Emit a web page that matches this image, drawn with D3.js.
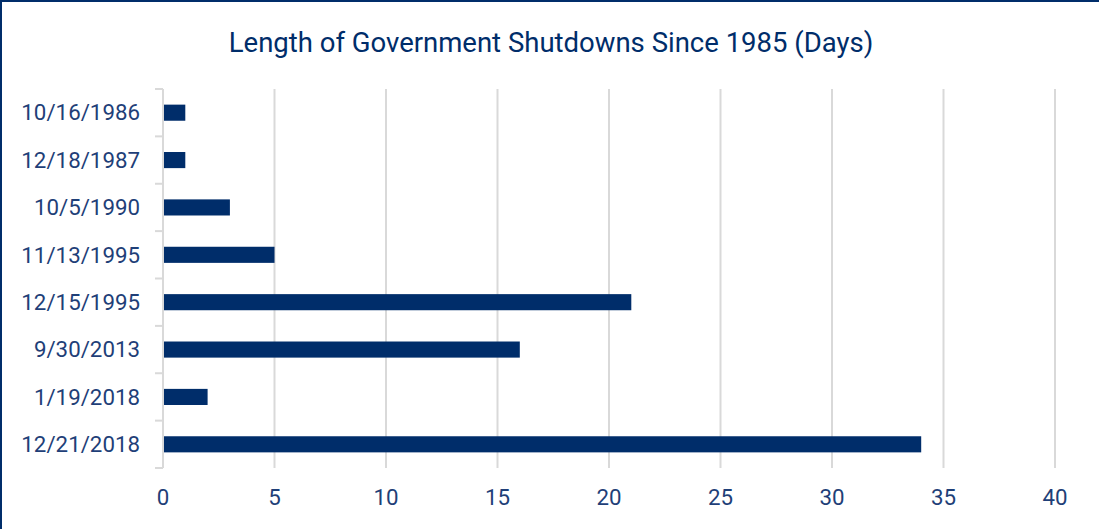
<!DOCTYPE html>
<html>
<head>
<meta charset="utf-8">
<script src="https://d3js.org/d3.v7.min.js"></script>
<style>
  html, body { margin: 0; padding: 0; background: #fff; }
  svg { display: block; }
</style>
</head>
<body>
<script>
// data
var dates = ["10/16/1986", "12/18/1987", "10/5/1990", "11/13/1995", "12/15/1995", "9/30/2013", "1/19/2018", "12/21/2018"];
var days = [1, 1, 3, 5, 21, 16, 2, 34];
var xTicks = [0, 5, 10, 15, 20, 25, 30, 35, 40];

var width = 1099, height = 529;
var navy = "#002d6a";
var textcolor = "#1f3f78";
var gridcolor = "#d9d9d9";

var margin = { top: 89, right: 44, bottom: 61, left: 163 };

var svg = d3.select("body").append("svg").attr("width", width).attr("height", height);

// frame lines on top and left
svg.append("line").attr("x1", 0).attr("x2", width).attr("y1", 1).attr("y2", 1)
  .attr("stroke", navy).attr("stroke-width", 2);
svg.append("line").attr("x1", 1).attr("x2", 1).attr("y1", 0).attr("y2", height)
  .attr("stroke", navy).attr("stroke-width", 2);

//Title
svg.append("text")
  .attr("x", 551).attr("y", 52)
  .attr("text-anchor", "middle")
  .style("font-family", "Roboto, 'Liberation Sans', sans-serif")
  .style("font-size", "27.5px")
  .style("fill", navy)
  .text("Length of Government Shutdowns Since 1985 (Days)");

var x = d3.scaleLinear().domain([0, 40]).range([margin.left, width - margin.right]);
var y = d3.scaleBand().domain(dates).range([margin.top, height - margin.bottom]).paddingInner(0.66).paddingOuter(0.33);

var g = svg.append("g");

// vertical gridlines
g.selectAll(".grid").data(xTicks.slice(1)).enter().append("line")
  .attr("x1", function(d) { return x(d); })
  .attr("x2", function(d) { return x(d); })
  .attr("y1", margin.top).attr("y2", height - margin.bottom)
  .attr("stroke", gridcolor).attr("stroke-width", 2);

// category axis with tick marks between categories
var bounds = d3.range(dates.length + 1).map(function(i) {
  return margin.top + i * (height - margin.bottom - margin.top) / dates.length;
});
g.append("line").attr("x1", x(0)).attr("x2", x(0))
  .attr("y1", margin.top).attr("y2", height - margin.bottom)
  .attr("stroke", gridcolor).attr("stroke-width", 2);
g.selectAll(".ytick").data(bounds).enter().append("line")
  .attr("x1", x(0) - 8).attr("x2", x(0))
  .attr("y1", function(d) { return d; }).attr("y2", function(d) { return d; })
  .attr("stroke", gridcolor).attr("stroke-width", 2);

//Draw the bars.
g.selectAll("rect").data(days).enter().append("rect")
  .attr("x", x(0) + 1)
  .attr("y", function(d, i) { return y(dates[i]); })
  .attr("width", function(d) { return x(d) - x(0) - 1; })
  .attr("height", y.bandwidth())
  .style("fill", navy);

// category labels
g.selectAll(".ylab").data(dates).enter().append("text")
  .attr("x", 140)
  .attr("y", function(d) { return y(d) + y.bandwidth() / 2; })
  .attr("dy", "0.35em")
  .attr("text-anchor", "end")
  .style("font-family", "Roboto, 'Liberation Sans', sans-serif")
  .style("font-size", "22.3px")
  .style("fill", textcolor)
  .text(function(d) { return d; });

// value axis labels
g.selectAll(".xlab").data(xTicks).enter().append("text")
  .attr("x", function(d) { return x(d); })
  .attr("y", 497)
  .attr("dy", "0.35em")
  .attr("text-anchor", "middle")
  .style("font-family", "Roboto, 'Liberation Sans', sans-serif")
  .style("font-size", "22.3px")
  .style("fill", textcolor)
  .text(function(d) { return d; });
</script>
</body>
</html>
